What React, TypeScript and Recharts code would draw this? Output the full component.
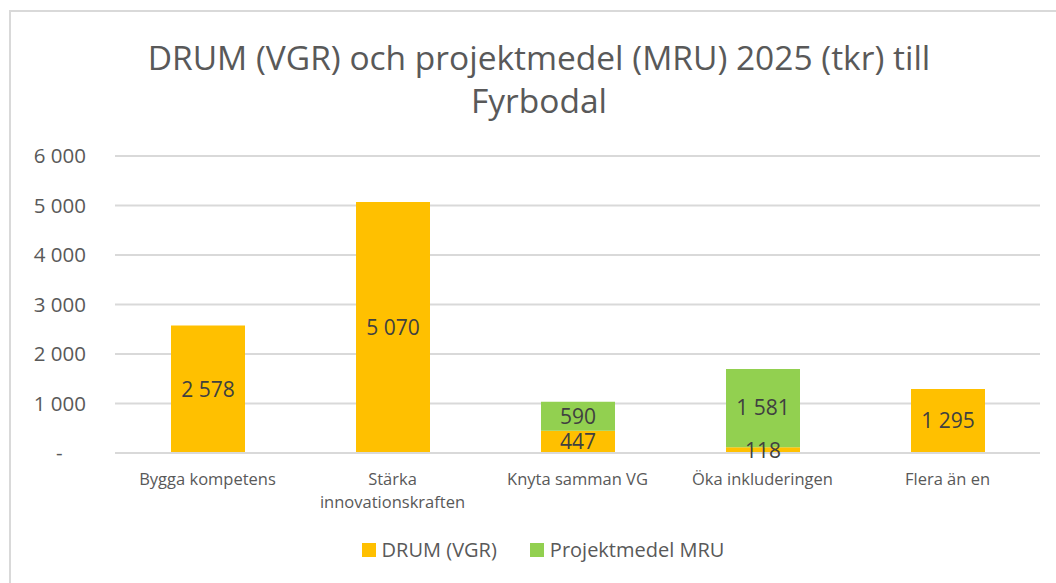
import React from 'react';
import { BarChart, Bar, XAxis, YAxis, CartesianGrid, LabelList, Legend } from 'recharts';

const categories = ['Bygga kompetens', 'Stärka innovationskraften', 'Knyta samman VG', 'Öka inkluderingen', 'Flera än en'];
const drumValues = [2578, 5070, 447, 118, 1295];
const mruValues = [null, null, 590, 1581, null];
const yTicks = [0, 1000, 2000, 3000, 4000, 5000, 6000];
const titleLines = ['DRUM (VGR) och projektmedel (MRU) 2025 (tkr) till', 'Fyrbodal'];
const seriesNames = ['DRUM (VGR)', 'Projektmedel MRU'];
const seriesColors = ['#FFC000', '#92D050'];

const data = categories.map((c, i) => ({ name: c, drum: drumValues[i], mru: mruValues[i] }));

const FONT = '"Open Sans", sans-serif';

const fmt = (v: any) => {
  if (v === null || v === undefined) return '';
  return String(v).replace(/\B(?=(\d{3})+(?!\d))/g, ' ');
};

const yFmt = (v: number) => (v === 0 ? '-\u2007\u2007' : fmt(v));

const XTick = (props: any) => {
  const { x, y, payload } = props;
  const s: string = payload.value;
  let lines = [s];
  if (s.length > 20) {
    const i = s.indexOf(' ');
    lines = [s.slice(0, i), s.slice(i + 1)];
  }
  return (
    <g transform={`translate(${x},${y})`}>
      {lines.map((l, k) => (
        <text key={k} x={0} y={24 + k * 23} textAnchor="middle" fill="#595959" fontSize={16.5} fontFamily={FONT}>
          {l}
        </text>
      ))}
    </g>
  );
};

const LegendContent = () => (
  <div style={{ display: 'flex', justifyContent: 'center', alignItems: 'center', fontFamily: FONT, fontSize: 20, color: '#595959' }}>
    {seriesNames.map((n, i) => (
      <div key={n} style={{ display: 'flex', alignItems: 'center', marginRight: i === 0 ? 33 : 0 }}>
        <div style={{ width: 14, height: 14, background: seriesColors[i], marginRight: 6 }} />
        <span>{n}</span>
      </div>
    ))}
  </div>
);

export default function App() {
  return (
    <div style={{ position: 'absolute', left: 0, top: 0, width: 1056, height: 583, background: '#fff', overflow: 'hidden' }}>
      <div style={{ position: 'absolute', left: 9, top: 10, width: 1100, height: 700, borderLeft: '2px solid #d9d9d9', borderTop: '2px solid #d9d9d9' }} />
      <div style={{ position: 'absolute', left: 0, top: 36, width: 1078, textAlign: 'center', fontFamily: FONT, fontSize: 33.5, color: '#595959', lineHeight: '43px' }}>
        {titleLines.map((t) => (
          <div key={t}>{t}</div>
        ))}
      </div>
      <div style={{ position: 'absolute', left: 0, top: 0 }}>
        <BarChart width={1056} height={583} data={data} margin={{ top: 156, right: 16, bottom: 73, left: 0 }} barSize={74}>
          <CartesianGrid vertical={false} stroke="#d9d9d9" strokeWidth={2} />
          <XAxis dataKey="name" axisLine={{ stroke: '#d9d9d9', strokeWidth: 2 }} tickLine={false} tick={<XTick />} interval={0} height={30} />
          <YAxis
            width={115}
            domain={[0, 6000]}
            ticks={yTicks}
            tickFormatter={yFmt}
            axisLine={false}
            tickLine={false}
            tickSize={0}
            tickMargin={29}
            tick={{ fill: '#595959', fontSize: 20.5, fontFamily: FONT }}
            interval={0}
          />
          <Legend content={<LegendContent />} wrapperStyle={{ position: 'absolute', top: 536, left: 0, width: 1086 }} />
          <Bar dataKey="drum" name={seriesNames[0]} stackId="a" fill={seriesColors[0]} isAnimationActive={false}>
            <LabelList dataKey="drum" position="center" formatter={fmt} fill="#404040" fontSize={21} fontFamily={FONT} />
          </Bar>
          <Bar dataKey="mru" name={seriesNames[1]} stackId="a" fill={seriesColors[1]} isAnimationActive={false}>
            <LabelList dataKey="mru" position="center" formatter={fmt} fill="#404040" fontSize={21} fontFamily={FONT} />
          </Bar>
        </BarChart>
      </div>
    </div>
  );
}
